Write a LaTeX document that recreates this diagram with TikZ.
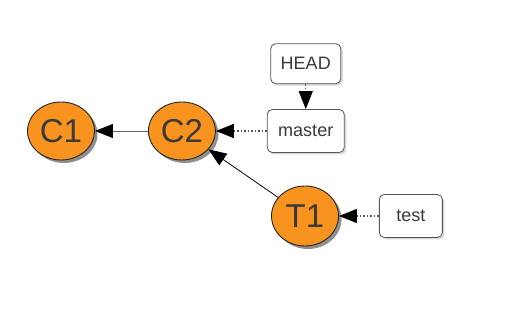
\documentclass[tikz,border=0pt]{standalone}
\usepackage{fontspec}
\setmainfont{Liberation Sans}
\usetikzlibrary{shapes.geometric, arrows.meta, positioning, shadows}
\definecolor{CommitOrange}{HTML}{F7931E}
\definecolor{TextGray}{HTML}{3A3A3A}
\definecolor{EdgeGray}{HTML}{555555}

\begin{document}
\begin{tikzpicture}[
    x=1pt, y=-1pt,
    % Style for the commit ellipses
    commit/.style = {
        ellipse, draw=black!85, fill=CommitOrange, line width=0.9pt,
        minimum width=67pt, minimum height=58pt, inner sep=0pt,
        font=\fontsize{33}{33}\selectfont, text=TextGray,
        drop shadow={shadow xshift=3pt, shadow yshift=-3pt, fill=black!55, opacity=0.8}
    },
    % Style for the branch labels
    ref/.style = {
        rectangle, rounded corners=5pt, draw=EdgeGray, fill=white, line width=0.8pt,
        minimum width=63pt, minimum height=40pt, inner xsep=10pt,
        font=\fontsize{18}{18}\selectfont, text=TextGray,
        drop shadow={shadow xshift=2pt, shadow yshift=-2pt, fill=black!25, opacity=0.6}
    },
    parent/.style = {-{Triangle[length=18pt, width=14pt, color=black]}, line width=0.8pt, draw=black},
    points/.style = {-{Triangle[length=18pt, width=14pt, color=black]}, line width=1.1pt,
        dash pattern=on 1.5pt off 2pt, draw=EdgeGray},
]
\useasboundingbox (0,0) rectangle (512,336);

% --- commits ---
\node[commit] (c1) at (61,131) {C1};
\node[commit, right=53pt of c1] (c2) {C2};
\node[commit, minimum height=60pt] (t1) at (305,216) {T1};

% --- refs ---
\node[ref, right=51pt of c2, minimum width=77pt, minimum height=43pt] (master) {master};
\node[ref, above=25pt of master] (head) {HEAD};
\node[ref, right=40pt of t1, minimum height=43pt] (test) {test};

% --- connectors ---
\draw[parent, draw=black!60] (c2) -- (c1);
\draw[parent] (t1) -- (c2);
\draw[points] (master) -- (c2);
\draw[points] (head) -- (master);
\draw[points] (test) -- (t1);

\end{tikzpicture}
\end{document}
